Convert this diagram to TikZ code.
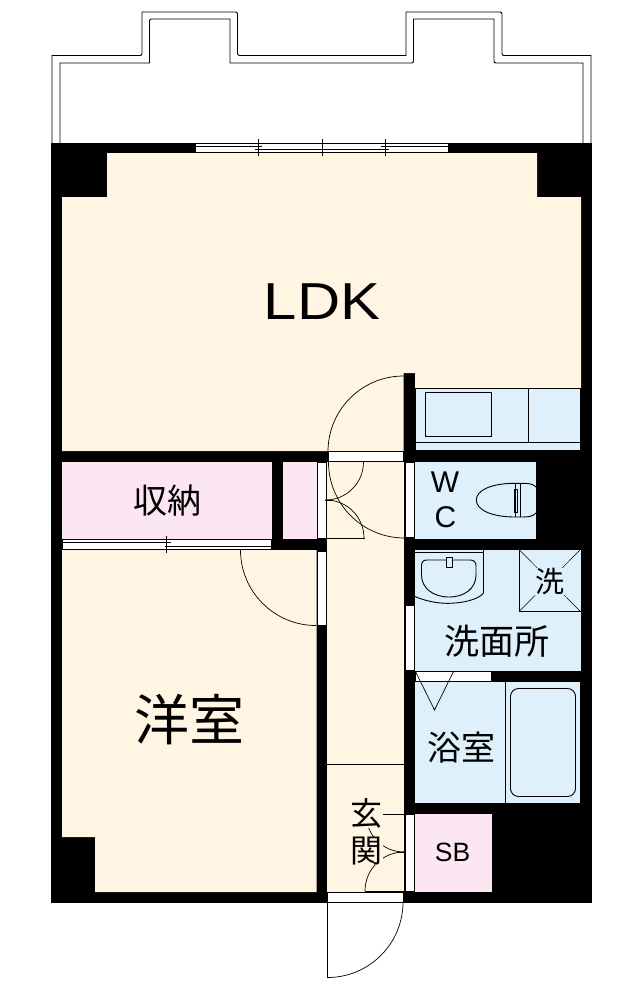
\documentclass[tikz,border=0pt]{standalone}
\usepackage{fontspec}
\setmainfont{Liberation Sans}
\newfontfamily\jpfont{Noto Sans CJK JP}
\usepackage{xcolor}
\definecolor{creamfloor}{HTML}{FFF5E2}
\definecolor{pinkfloor}{HTML}{FCE6F1}
\definecolor{bluefloor}{HTML}{DEF0FC}
\begin{document}
\begin{tikzpicture}[
				x=1pt, y=-1pt,
				wall/.style={fill=black, draw=none},
				cream/.style={fill=creamfloor, draw=none},
				pink/.style={fill=pinkfloor, draw=none},
				blue/.style={fill=bluefloor, draw=none},
				opening/.style={fill=white, draw=black, line width=0.8pt},
				line/.style={draw=black, line width=0.9pt},
				swing/.style={draw=black, line width=0.7pt},
				roomtext/.style={inner sep=0pt, font=\jpfont\fontsize{#1}{#1}\selectfont},
				latintext/.style={inner sep=0pt, font=\fontsize{#1}{#1}\selectfont}
				]
				\useasboundingbox (0,0) rectangle (639,997);
				
				% Ban cong
				\draw[line] (52,143) -- (52,55.5) [rounded corners=2pt] -- (142,55.5) [sharp corners] -- (142,12) [rounded corners=2pt] -- (237.5,12) -- (237.5,55.5) [sharp corners] -- (406,55.5) -- (406,12) [rounded corners=2pt] -- (502,12) -- (502,55.5) [sharp corners] -- (591,55.5) [rounded corners=2pt] -- (591,143);
				\draw[line] (60,143) -- (60,63) -- (149.5,63) [rounded corners=2pt] -- (149.5,19) [sharp corners] -- (230,19) -- (230,63) [rounded corners=2pt] -- (413.5,63) [sharp corners] -- (413.5,19) -- (494,19) [rounded corners=2pt] -- (494,63) [sharp corners] -- (583,63) -- (583,143);
				
				% Khoi tuong, cac phong phu len tren
				\fill[wall] (51,142.5) rectangle (591.5,902.5);
				\fill[cream] (62,197) -- (107,197) -- (107,153) -- (537,153) -- (537,197) -- (581,197) -- (581,388) -- (415,388) -- (415,373) -- (403.5,373) -- (403.5,451) -- (62,451) -- cycle;
				\fill[cream] (327,462) rectangle (404,892);
				\fill[cream] (62,550) -- (316.5,550) -- (316.5,892) -- (95,892) -- (95,837) -- (62,837) -- cycle;
				\fill[pink] (62,462) rectangle (272,539);
				\fill[pink] (283,462) rectangle (316.5,539);
				\fill[pink] (415,814) rectangle (492,892);
				\fill[blue] (415.5,388) rectangle (580,450);
				\fill[blue] (415,462) rectangle (536,539);
				\fill[blue] (415,550) rectangle (581,670.5);
				\fill[blue] (415,681.5) rectangle (580,802.5);
				
				% Cua so LDK
				\fill[white] (196,143) rectangle (448,152.5);
				\draw[line] (196,143) -- (448,143);
				\draw[line] (196,152.5) -- (448,152.5);
				\draw[line] (196,146) -- (262,146);
				\draw[line] (381,146) -- (448,146);
				\draw[line] (255,149.5) -- (388.5,149.5);
				\foreach \tickx in {258.5,322,385}
				\draw[line] (\tickx,139) -- (\tickx,155.5);
				
				% Cua so thu nap
				\fill[white] (62.5,539.5) rectangle (271,549.5);
				\draw[line] (62.5,539.5) -- (271,539.5);
				\draw[line] (62.5,549.5) -- (271,549.5);
				\draw[line] (62.5,542.5) -- (170.5,542.5);
				\draw[line] (164.5,546.5) -- (271,546.5);
				\draw[line] (166.5,536) -- (166.5,552.5);
				
				% Cac o cua trang
				\draw[opening] (328,451.5) rectangle (403.5,461);
				\draw[opening] (317,462) rectangle (326.5,538);
				\draw[opening] (405,462) rectangle (414.5,537.5);
				\draw[opening] (317,551) rectangle (326.5,625.5);
				\draw[opening] (405,605) rectangle (414.5,670.5);
				\fill[white] (415.5,671.5) rectangle (490.5,681);
				\draw[opening] (405,814.5) rectangle (414.5,891);
				\draw[opening] (327.5,892.5) rectangle (403.5,902.5);
				
				% Canh cua
				\draw[swing] (403.5,376) arc[start angle=90, end angle=180, radius=75.5pt];
				\draw[swing] (328.5,462) arc[start angle=180, end angle=270, radius=76pt];
				\draw[swing] (240.5,550) arc[start angle=180, end angle=270, radius=75.5pt];
				\draw[swing] (363.5,462) arc[start angle=0, end angle=-90, radius=38pt];
				\draw[swing] (326,500) arc[start angle=90, end angle=0, radius=38pt];
				\draw[line] (325,500) -- (331,500);
				\draw[line] (327,538) -- (364.5,538);
				\draw[swing] (366,814) arc[start angle=180, end angle=270, radius=38pt];
				\draw[swing] (404,852) arc[start angle=90, end angle=180, radius=39pt];
				\draw[line] (366,814) -- (404.5,814);
				\draw[line] (365,891) -- (404.5,891);
				\draw[line] (398,852) -- (404.5,852);
				\draw[line] (327.5,902) -- (327.5,978);
				\draw[swing] (403,902) arc[start angle=0, end angle=-90, radius=75.5pt];
				\draw[line] (327,764.5) -- (404,764.5);
				\draw[swing] (415.5,671.5) -- (434.5,710) -- (453.5,671.5);
				
				% Bep
				\draw[line] (415.5,388) -- (580,388);
				\draw[line] (415.5,442.5) -- (580,442.5);
				\draw[line] (528,388) -- (528,442.5);
				\draw[line] (425.5,392.5) rectangle (491.5,436.5);
				
				% Bon cau
				\draw[line] (536,487) .. controls (532,483.3) and (530,483.3) .. (515,483.3) .. controls (492,483.3) and (476.3,490) .. (476.3,500) .. controls (476.3,510) and (492,517) .. (515,517) .. controls (530,517) and (532,517) .. (536,513);
				\draw[line] (515,483.3) -- (515,517);
				\draw[line] (520,483.3) -- (520,517);
				\draw[line] (514.5,489) rectangle (517,512.5);
				
				% Chau rua
				\draw[line] (415,552.5) -- (483.5,552.5);
				\draw[line] (483.5,550) -- (483.5,593);
				\draw[line] (415,596.5) .. controls (430,603) and (445,604) .. (455,603) .. controls (468,602) and (480,598) .. (483.5,593);
				\draw[line] (446.5,560) -- (427,560) .. controls (423,560) and (421.5,562) .. (421.5,566) -- (421.5,575) .. controls (421.5,588) and (433,597) .. (449,597) .. controls (465,597) and (476,588) .. (476,575) -- (476,566) .. controls (476,562) and (474,560) .. (470,560) -- (452,560);
				\draw[line, fill=bluefloor] (446.5,557.5) rectangle (452,567.5);
				
				% May giat
				\draw[line] (519.5,550) -- (519.5,611.5) -- (581,611.5);
				\draw[black, line width=0.5pt] (519.5,550) -- (580,611);
				\draw[black, line width=0.5pt] (580,550) -- (519.5,611);
				
				% Bon tam
				\draw[line] (505.5,681.5) -- (505.5,802.5);
				\draw[line, rounded corners=8pt] (510.5,688.5) rectangle (575.5,796.5);
				
				% Nhan cac phong
				\node[latintext=52, transform shape, xscale=1.15] (ldk) at (322,301.5) {LDK};
				\node[roomtext=34] (shuno) at (167.5,501) {収納};
				\node[roomtext=55] (yoshitsu) at (189.5,719.5) {洋室};
				\node[latintext=30] (wcw) at (445,482) {W};
				\node[latintext=30] (wcc) at (445.5,517) {C};
				\node[roomtext=29, fill=bluefloor] (sentaku) at (549.5,581.5) {洗};
				\node[roomtext=35] (senmen) at (497,641) {洗面所};
				\node[roomtext=34] (yokushitsu) at (461,748) {浴室};
				\node[roomtext=32, fill=creamfloor] (gen) at (366.5,813) {玄};
				\node[roomtext=32, fill=creamfloor] (kan) at (366.5,851) {関};
				\node[latintext=26.5] (sb) at (452.5,852) {SB};
			\end{tikzpicture}
\end{document}
